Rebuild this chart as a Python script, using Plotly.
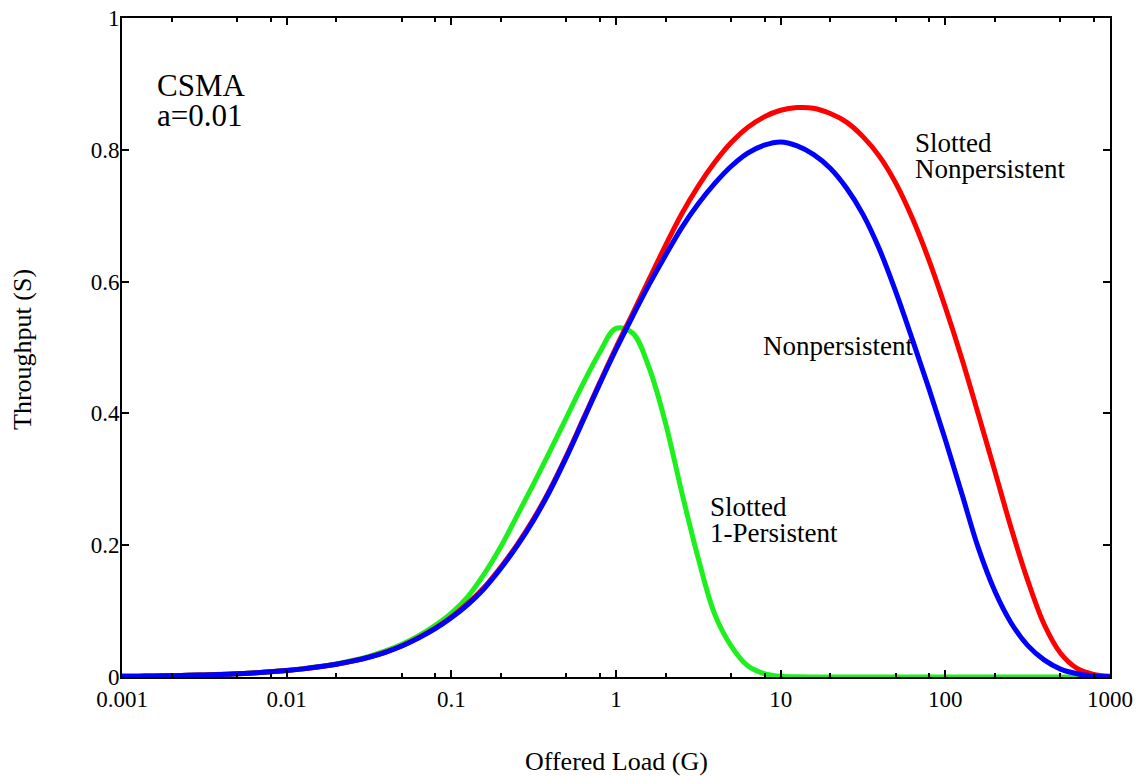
import plotly.graph_objects as go

# Offered load G, ten samples per decade from 0.001 to 1000
load = [0.001, 0.00126, 0.00158, 0.002, 0.00251, 0.00316, 0.00398, 0.00501, 0.00631, 0.00794,
        0.01, 0.0126, 0.0158, 0.02, 0.0251, 0.0316, 0.0398, 0.0501, 0.0631, 0.0794,
        0.1, 0.126, 0.158, 0.2, 0.251, 0.316, 0.398, 0.501, 0.631, 0.794,
        1, 1.26, 1.585, 2.0, 2.51, 3.16, 3.98, 5.01, 6.31, 7.94,
        10, 12.6, 15.8, 20, 25.1, 31.6, 39.8, 50.1, 63.1, 79.4,
        100, 126, 158, 200, 251, 316, 398, 501, 631, 794, 1000]

# Throughput S, nonpersistent CSMA
throughput_np = [0.0010, 0.0013, 0.0016, 0.0020, 0.0025, 0.0031, 0.0039, 0.0049, 0.0062, 0.0078,
                 0.0098, 0.0123, 0.0154, 0.0193, 0.0240, 0.0300, 0.0375, 0.0470, 0.0590, 0.0730,
                 0.090, 0.110, 0.134, 0.165, 0.199, 0.238, 0.283, 0.334, 0.389, 0.444,
                 0.497, 0.547, 0.595, 0.640, 0.682, 0.718, 0.749, 0.775, 0.795, 0.807,
                 0.812, 0.806, 0.793, 0.772, 0.742, 0.702, 0.649, 0.584, 0.512, 0.438,
                 0.360, 0.278, 0.197, 0.130, 0.082, 0.048, 0.026, 0.012, 0.005, 0.0015, 0.0003]

# Throughput S, slotted nonpersistent CSMA
throughput_snp = [0.0010, 0.0013, 0.0016, 0.0020, 0.0025, 0.0031, 0.0039, 0.0049, 0.0062, 0.0078,
                  0.0098, 0.0123, 0.0155, 0.0194, 0.0242, 0.0302, 0.0378, 0.0474, 0.0595, 0.0737,
                  0.091, 0.112, 0.136, 0.167, 0.201, 0.240, 0.285, 0.336, 0.391, 0.446,
                  0.500, 0.551, 0.603, 0.655, 0.703, 0.745, 0.781, 0.811, 0.834, 0.850,
                  0.860, 0.864, 0.863, 0.855, 0.842, 0.820, 0.790, 0.749, 0.696, 0.633,
                  0.561, 0.483, 0.400, 0.312, 0.226, 0.147, 0.080, 0.036, 0.013, 0.004, 0.001]

# Throughput S, slotted 1-persistent CSMA
throughput_s1p = [0.0010, 0.0013, 0.0016, 0.0020, 0.0025, 0.0032, 0.0040, 0.0050, 0.0063, 0.0079,
                  0.0100, 0.0126, 0.0158, 0.0199, 0.0250, 0.0314, 0.0395, 0.0497, 0.0623, 0.0780,
                  0.097, 0.122, 0.156, 0.198, 0.245, 0.293, 0.343, 0.394, 0.445, 0.492,
                  0.529, 0.522, 0.470, 0.385, 0.280, 0.180, 0.095, 0.047, 0.017, 0.005,
                  0.001, 0.0002, 0, 0, 0, 0, 0, 0, 0, 0,
                  0, 0, 0, 0, 0, 0, 0, 0, 0, 0, 0]

x_ticks = [0.001, 0.01, 0.1, 1, 10, 100, 1000]
x_tick_text = ["0.001", "0.01", "0.1", "1", "10", "100", "1000"]
x_minor_ticks = [m * 10 ** e for e in range(-3, 3) for m in (2, 5, 8)]
y_ticks = [0, 0.2, 0.4, 0.6, 0.8, 1]
y_tick_text = ["0", "0.2", "0.4", "0.6", "0.8", "1"]

FONT = "Liberation Serif, Times New Roman, serif"

fig = go.Figure()
for values, color, name in [(throughput_s1p, "#1ef01e", "Slotted 1-Persistent"),
                            (throughput_snp, "#ff0000", "Slotted Nonpersistent"),
                            (throughput_np, "#0000ff", "Nonpersistent")]:
    fig.add_trace(go.Scatter(x=load, y=values, mode="lines", name=name,
                             line=dict(color=color, width=5, shape="spline", smoothing=1.0)))

axis_common = dict(showgrid=False, zeroline=False, showline=True, linecolor="black", linewidth=2,
                   mirror="ticks", ticks="inside", tickcolor="black", tickwidth=2, ticklen=7,
                   automargin=False, tickfont=dict(family=FONT, size=23, color="black"))

fig.update_xaxes(type="log", range=[-3, 3], tickvals=x_ticks, ticktext=x_tick_text,
                 ticklabelstandoff=0,
                 minor=dict(tickvals=x_minor_ticks, ticks="inside", ticklen=4, tickwidth=2,
                            tickcolor="black", showgrid=False),
                 **axis_common)
fig.update_yaxes(range=[0, 1], tickvals=y_ticks, ticktext=y_tick_text, ticklabelstandoff=-4,
                 **axis_common)

# paper coordinates: plot spans x 122..1110 px, y 18..677 px
def px(xp):
    return (xp - 122) / 988

def py(yp):
    return (677 - yp) / 659

def label(text, x, y, size=27, xanchor="left", angle=0):
    fig.add_annotation(text=text, xref="paper", yref="paper", x=x, y=y, showarrow=False,
                       xanchor=xanchor, yanchor="middle", textangle=angle,
                       font=dict(family=FONT, size=size, color="black"))

label("Offered Load (G)", px(616), py(761), size=26, xanchor="center")
label("Throughput (S)", px(22), py(350), size=26, xanchor="center", angle=-90)

label("CSMA", px(155), py(85), size=31)
label("a=0.01", px(155), py(116), size=31)
label("Slotted", px(913), py(143))
label("Nonpersistent", px(913), py(169))
label("Nonpersistent", px(761), py(346))
label("Slotted", px(708), py(507))
label("1-Persistent", px(708), py(533))

fig.update_layout(width=1144, height=776, margin=dict(l=122, r=34, t=18, b=99),
                  paper_bgcolor="white", plot_bgcolor="white", showlegend=False)

fig.write_html("out.html")
